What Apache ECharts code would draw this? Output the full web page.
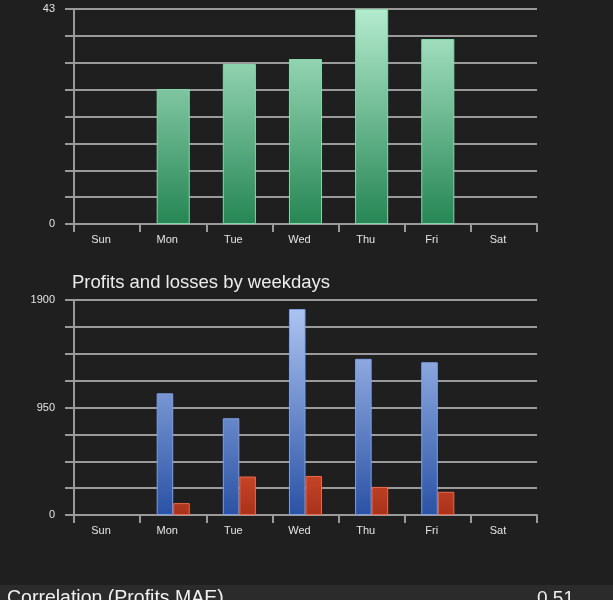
<!DOCTYPE html>
<html lang="en">
<head>
    <meta charset="UTF-8">
    <title>Weekdays</title>
    <script src="https://cdn.jsdelivr.net/npm/echarts@6/dist/echarts.min.js"></script>
    <style>
        html, body { margin: 0; padding: 0; background: #1f1f1f; }
    </style>
</head>
<body>
    <div id="main" style="width:613px;height:600px;"></div>
</body>
</html>
<script type="text/javascript">
    // data (no trades on weekends)
    var days = ['Sun', 'Mon', 'Tue', 'Wed', 'Thu', 'Fri', 'Sat'];
    var tradeCount = [null, 27, 32, 33, 43, 37, null];
    var profits = [null, 1075, 855, 1820, 1380, 1350, null];
    var losses = [null, 105, 340, 345, 248, 205, null];
    var topTicks = [0, 43];
    var bottomTicks = [0, 950, 1900];

    var myChart = echarts.init(document.getElementById('main'));

    var gridColor = '#9a9a9a';
    var labelFont = { color: '#e4e4e4', fontSize: 11, fontFamily: 'Liberation Sans' };

    function grad(y1, y2, c1, c2) {
        return {
            type: 'linear', x: 0, y: y1, x2: 0, y2: y2, global: true,
            colorStops: [{ offset: 0, color: c1 }, { offset: 1, color: c2 }]
        };
    }

    function yAxisFor(idx, max, ticks) {
        return {
            type: 'value', gridIndex: idx, min: 0, max: max, interval: max / 8,
            axisLine: { show: true, lineStyle: { color: gridColor, width: 2 } },
            axisTick: { show: true, length: 9, lineStyle: { color: gridColor, width: 2 } },
            splitLine: { show: true, lineStyle: { color: gridColor, width: 2 } },
            axisLabel: Object.assign({
                margin: 19,
                formatter: function (v) { return ticks.indexOf(v) >= 0 ? String(v) : ''; }
            }, labelFont)
        };
    }

    function xAxisFor(idx) {
        return {
            type: 'category', gridIndex: idx, data: days,
            axisLine: { show: true, lineStyle: { color: gridColor, width: 2 } },
            axisTick: { show: true, length: 8, lineStyle: { color: gridColor, width: 2 } },
            axisLabel: Object.assign({ margin: 10, padding: [0, 12, 0, 0] }, labelFont)
        };
    }

    var option = {
        backgroundColor: '#1f1f1f',
        animation: false,
        title: {
            text: 'Profits and losses by weekdays',
            left: 67, top: 268,
            textStyle: { color: '#ececec', fontSize: 18.5, fontWeight: 'normal', fontFamily: 'Liberation Sans' }
        },
        grid: [
            { left: 74, right: 76, top: 9, height: 215 },
            { left: 74, right: 76, top: 300, height: 215 }
        ],
        xAxis: [xAxisFor(0), xAxisFor(1)],
        yAxis: [yAxisFor(0, 43, topTicks), yAxisFor(1, 1900, bottomTicks)],
        series: [
            {
                name: 'Trades', type: 'bar', xAxisIndex: 0, yAxisIndex: 0,
                data: tradeCount, barWidth: '50%',
                itemStyle: {
                    color: grad(9, 224, '#b4ebcf', '#268654'),
                    borderColor: '#86d6ab', borderWidth: 1
                }
            },
            {
                name: 'Profits', type: 'bar', xAxisIndex: 1, yAxisIndex: 1,
                data: profits, barWidth: '25%', barGap: '0%',
                itemStyle: {
                    color: grad(300, 515, '#b3c9f5', '#2a52a4'),
                    borderColor: '#7f9fe6', borderWidth: 1
                }
            },
            {
                name: 'Losses', type: 'bar', xAxisIndex: 1, yAxisIndex: 1,
                data: losses, barWidth: '25%', barGap: '0%',
                itemStyle: {
                    color: grad(470, 515, '#c9472a', '#a8321a'),
                    borderColor: '#ee6a4a', borderWidth: 1
                }
            }
        ],
        graphic: [
            { type: 'rect', left: 0, top: 585, shape: { width: 613, height: 15 }, style: { fill: '#2b2b2b' } },
            { type: 'text', left: 7, top: 589, style: { text: 'Correlation (Profits MAE)', fill: '#f0f0f0', font: '19.5px "Liberation Sans"' } },
            { type: 'text', left: 537, top: 589, style: { text: '0.51', fill: '#f0f0f0', font: '19px "Liberation Sans"' } }
        ]
    };

    myChart.setOption(option);
</script>
